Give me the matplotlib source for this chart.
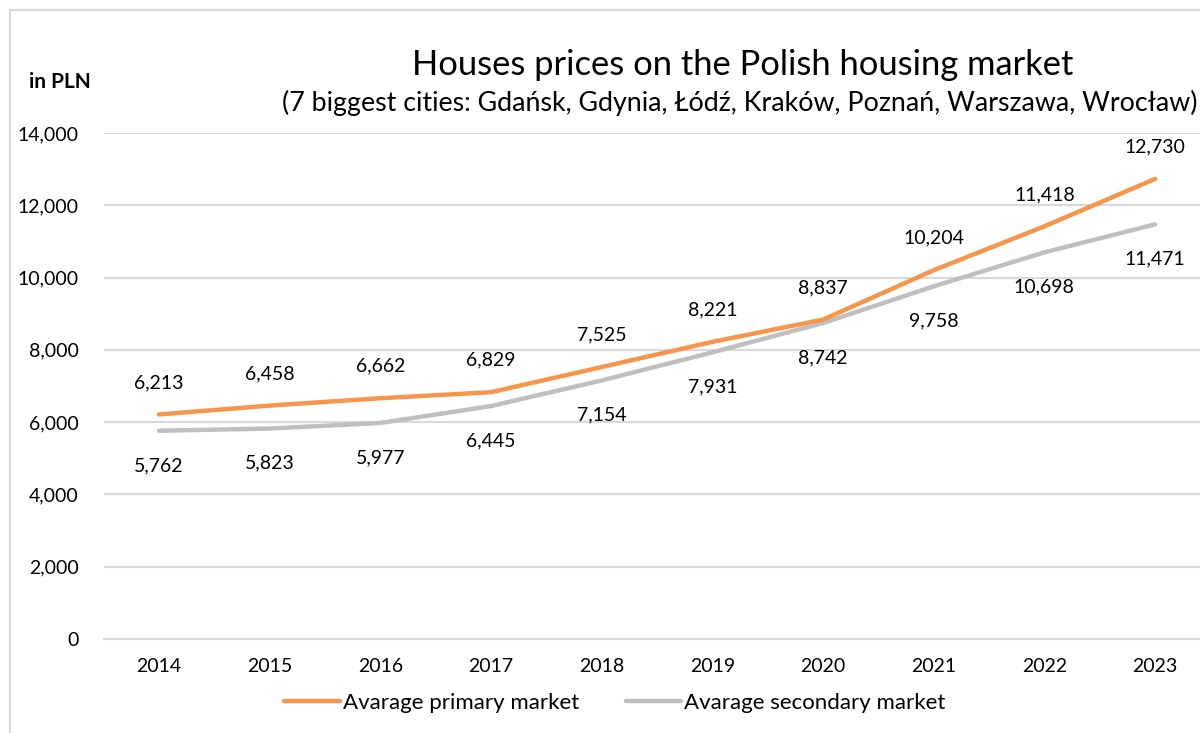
import matplotlib
matplotlib.use("Agg")
import matplotlib.pyplot as plt
from matplotlib.patches import Rectangle
from matplotlib.ticker import FuncFormatter

years = ["2014", "2015", "2016", "2017", "2018", "2019", "2020", "2021", "2022", "2023"]
primary = [6213, 6458, 6662, 6829, 7525, 8221, 8837, 10204, 11418, 12730]
secondary = [5762, 5823, 5977, 6445, 7154, 7931, 8742, 9758, 10698, 11471]
series_names = ["Avarage primary market", "Avarage secondary market"]
title = "Houses prices on the Polish housing market"
subtitle = "(7 biggest cities: Gdańsk, Gdynia, Łódź, Kraków, Poznań, Warszawa, Wrocław)"
unit_label = "in PLN"

plt.rcParams['font.family'] = ['Lato', 'DejaVu Sans']

ORANGE = "#F7964A"
GRAY = "#BFBFBF"
GRID = "#D9D9D9"

fig = plt.figure(figsize=(12, 7.33), dpi=100)
ax = fig.add_axes([103.7/1200, 94/733, 1106.7/1200, 506/733])

x = list(range(len(years)))
ax.plot(x, primary, color=ORANGE, lw=3.2, solid_capstyle='round', label=series_names[0], zorder=3)
ax.plot(x, secondary, color=GRAY, lw=3.2, solid_capstyle='round', label=series_names[1], zorder=2)

for xi, p, s in zip(x, primary, secondary):
    ax.annotate(f"{p:,}", (xi, p), xytext=(0, 23), textcoords='offset points',
                ha='center', va='center', fontsize=14, color='black')
    ax.annotate(f"{s:,}", (xi, s), xytext=(0, -25), textcoords='offset points',
                ha='center', va='center', fontsize=14, color='black')

ax.set_xlim(-0.5, len(years) - 0.5)
ax.set_ylim(0, 14000)
ax.set_yticks(range(0, 14001, 2000))
ax.yaxis.set_major_formatter(FuncFormatter(lambda v, _: f"{int(v):,}"))
ax.set_xticks(x)
ax.set_xticklabels(years)
ax.tick_params(axis='both', length=0, labelsize=14, colors='black')
ax.tick_params(axis='y', pad=18)
ax.tick_params(axis='x', pad=14)
ax.grid(axis='y', color=GRID, lw=1.5)
ax.set_axisbelow(True)
for sp in ax.spines.values():
    sp.set_visible(False)
ax.spines['bottom'].set_visible(True)
ax.spines['bottom'].set_color(GRID)
ax.spines['bottom'].set_linewidth(1.5)

fig.text(743/1200, 1 - 65/733, title, ha='center', va='center', fontsize=24.8)
fig.text(740/1200, 1 - 103/733, subtitle, ha='center', va='center', fontsize=19.3)
fig.text(29/1200, 1 - 82/733, unit_label, ha='left', va='center', fontsize=15, fontweight='bold')

fig.legend(loc='center', bbox_to_anchor=(615/1200, 30/733), ncol=2, frameon=False,
           fontsize=16, handlelength=2.5, handletextpad=0.14, columnspacing=2.1)

fig.patches.append(Rectangle((10/1200, -0.1), 1.2, (733-10)/733 + 0.1, transform=fig.transFigure,
                             fill=False, edgecolor=GRID, lw=1.5))

fig.savefig("out.png", dpi=100)
